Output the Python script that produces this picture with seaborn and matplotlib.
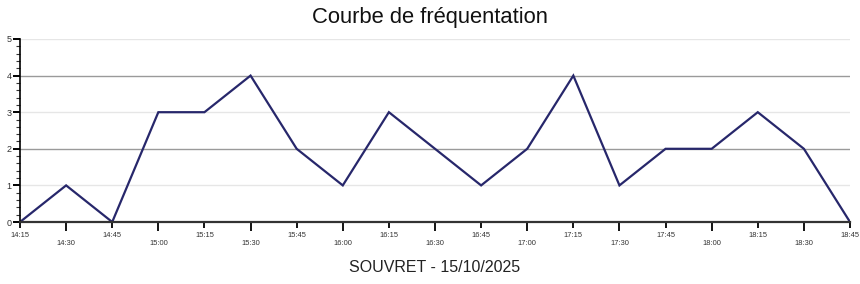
import matplotlib
matplotlib.use("Agg")
import matplotlib.pyplot as plt
import seaborn as sns
import pandas as pd
from matplotlib.ticker import MultipleLocator

times = ["14:15", "14:30", "14:45", "15:00", "15:15", "15:30", "15:45", "16:00",
         "16:15", "16:30", "16:45", "17:00", "17:15", "17:30", "17:45", "18:00",
         "18:15", "18:30", "18:45"]
visitors = [0, 1, 0, 3, 3, 4, 2, 1, 3, 2, 1, 2, 4, 1, 2, 2, 3, 2, 0]
title = "Courbe de fréquentation"
xlabel = "SOUVRET - 15/10/2025"

sns.set_theme(style="white")
plt.rcParams['font.family'] = ['Liberation Sans', 'DejaVu Sans']

df = pd.DataFrame({"pos": range(len(times)), "time": times, "visitors": visitors})
upper = df[df["pos"] % 2 == 0]
lower = df[df["pos"] % 2 == 1]

fig = plt.figure(figsize=(8.6, 2.84), dpi=100)
ax = fig.add_axes([20/860, 62/284, 830/860, 183/284])

sns.lineplot(data=df, x="pos", y="visitors", ax=ax, color="#27276b",
             linewidth=1.6, solid_joinstyle="miter")

ax.set_xlim(0, len(times) - 1)
ax.set_ylim(0, 5)
ax.set_xticks(upper["pos"], labels=upper["time"], fontsize=5.4, color="#333333")
ax.set_xticks(lower["pos"], labels=lower["time"], minor=True, fontsize=5.4, color="#333333")
ax.tick_params(axis="x", which="major", length=4.3, width=1.3, color="black", pad=3.2, bottom=True)
ax.tick_params(axis="x", which="minor", length=6.5, width=1.3, color="black", pad=6.5, bottom=True)

ax.yaxis.set_major_locator(MultipleLocator(1))
ax.yaxis.set_minor_locator(MultipleLocator(0.2))
ax.tick_params(axis="y", which="major", labelsize=6.5, length=5, width=1.4,
               color="black", labelcolor="#333333", pad=1, left=True)
ax.tick_params(axis="y", which="minor", length=3, width=0.8, color="#333333", left=True)

ax.grid(axis="y", which="major", linewidth=1.0)
for val, gl in zip(ax.get_yticks(), ax.get_ygridlines()):
    gl.set_color("#9a9a9a" if round(val) % 2 == 0 else "#e6e6e6")

for s in ["top", "right"]:
    ax.spines[s].set_visible(False)
ax.spines["left"].set_color("black")
ax.spines["left"].set_linewidth(1.2)
ax.spines["bottom"].set_color("#333333")
ax.spines["bottom"].set_linewidth(1.6)

ax.set_xlabel(xlabel, fontsize=11.5, color="#222222", labelpad=9)
ax.set_ylabel("")
fig.suptitle(title, fontsize=15.8, color="#111111", y=0.975)

fig.savefig("out.png", dpi=100)
